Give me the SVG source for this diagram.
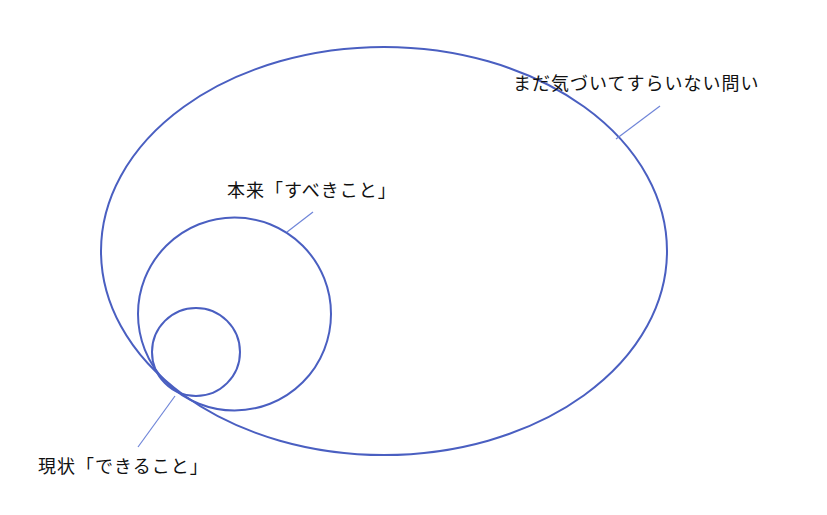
<svg xmlns="http://www.w3.org/2000/svg" width="827" height="515" viewBox="0 0 827 515">
<style>
.shape{fill:none;stroke:#4a5fc1;stroke-width:2}
.lead{stroke:#6f85d8;stroke-width:1.2;fill:none}
.lbl{font-family:"Noto Sans CJK JP","Noto Sans CJK SC",sans-serif;font-size:18px;fill:#111;letter-spacing:1px}
</style>
<rect width="827" height="515" fill="#fff"/>
<g id="unaware">
<ellipse class="shape" cx="384" cy="251" rx="283" ry="204"/>
<text class="lbl" x="513" y="90">まだ気づいてすらいない問い</text>
</g>
<g id="should">
<circle class="shape" cx="234.5" cy="314" r="96.5"/>
<text class="lbl" x="227" y="197">本来「すべきこと」</text>
</g>
<g id="can">
<circle class="shape" cx="196" cy="352" r="44"/>
<text class="lbl" x="38" y="473">現状「できること」</text>
</g>
<g id="connectors">
<line class="lead" x1="660" y1="106" x2="616" y2="139"/>
<line class="lead" x1="313" y1="212" x2="287" y2="232"/>
<line class="lead" x1="175" y1="396" x2="138" y2="447"/>
</g>
</svg>
